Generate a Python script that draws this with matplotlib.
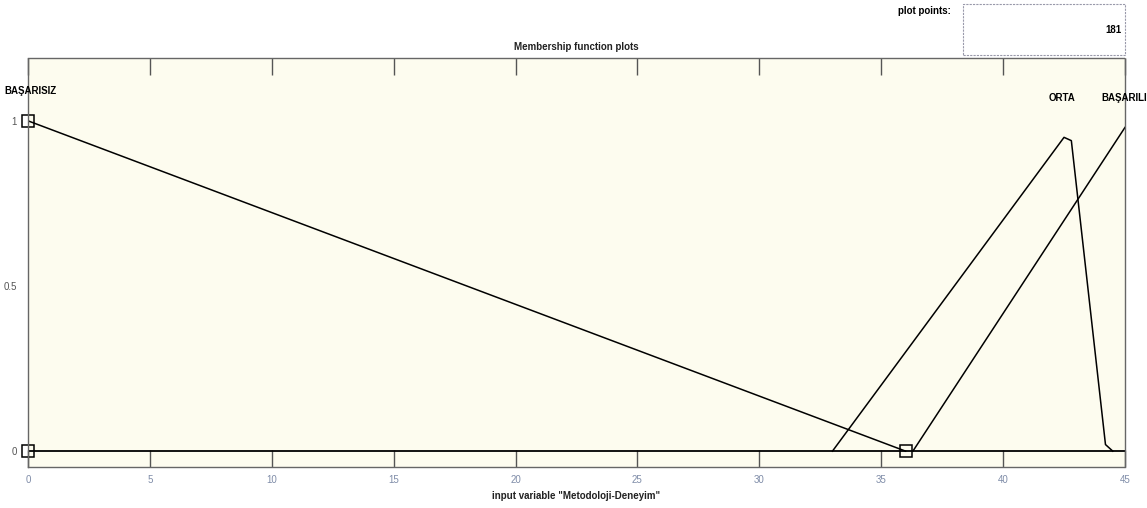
import matplotlib
matplotlib.use("Agg")
import matplotlib.pyplot as plt
from matplotlib.patches import Rectangle

plt.rcParams['font.family'] = ['Liberation Sans', 'DejaVu Sans']

# Data: membership functions of input variable "Metodoloji-Deneyim"
mf_names = ["BAŞARISIZ", "ORTA", "BAŞARILI"]
basarisiz_x = [0, 36]
basarisiz_y = [1, 0]
orta_x = [33, 42.5, 42.8, 44.2, 44.5]
orta_y = [0, 0.95, 0.94, 0.02, 0]
basarili_x = [36.3, 45]
basarili_y = [0, 0.98]
selected_x = [0, 0, 36]
selected_y = [1, 0, 0]
x_ticks = [0, 5, 10, 15, 20, 25, 30, 35, 40, 45]
y_ticks = [0, 0.5, 1]
y_tick_labels = ["0", "0.5", "1"]
plot_points = 181

FS = 7

fig = plt.figure(figsize=(11.47, 5.08), dpi=100)
ax = fig.add_axes([0.0244, 0.0807, 0.9564, 0.805])
ax.set_facecolor('#fdfcef')

ax.plot([0, 45], [0, 0], color='black', lw=1.3)
ax.plot(basarisiz_x, basarisiz_y, color='black', lw=1.1)
ax.plot(orta_x, orta_y, color='black', lw=1.1)
ax.plot(basarili_x, basarili_y, color='black', lw=1.1)
ax.plot(selected_x, selected_y, linestyle='none', marker='s', markersize=9,
        markerfacecolor='none', markeredgecolor='black', markeredgewidth=1.1, clip_on=False)

ax.set_xlim(0, 45)
ax.set_ylim(-0.048, 1.19)
ax.set_xticks(x_ticks)
ax.set_yticks(y_ticks)
ax.set_yticklabels(y_tick_labels)
ax.tick_params(axis='x', direction='in', length=12, width=1.0, top=True, bottom=True,
               labelsize=FS, colors='#555555', pad=6)
ax.tick_params(axis='y', length=0, labelsize=FS, labelcolor='#555555', pad=8)
for lbl in ax.get_xticklabels():
    lbl.set_color('#7f8ca8')
for s in ax.spines.values():
    s.set_color('#666666')
    s.set_linewidth(1.0)
    s.set_linestyle((0, (4, 1)))

ax.set_xlabel('input variable "Metodoloji-Deneyim"', fontsize=FS, labelpad=4, fontweight='bold', color='#222222')
ax.set_title('Membership function plots', fontsize=FS, pad=6, fontweight='bold', color='#222222')

# MF labels
ax.text(-0.95, 1.09, mf_names[0], fontsize=FS, fontweight='bold', ha='left', va='center', clip_on=False)
ax.text(42.4, 1.07, mf_names[1], fontsize=FS, fontweight='bold', ha='center', va='center')
ax.text(45.9, 1.07, mf_names[2], fontsize=FS, fontweight='bold', ha='right', va='center', clip_on=False)

# plot points box
fig.text(0.829, 0.978, 'plot points:', fontsize=FS, fontweight='bold', ha='right', va='center')
box = Rectangle((0.8395, 0.892), 0.141, 0.1, transform=fig.transFigure, fill=False,
                edgecolor='#9999aa', lw=0.8, linestyle=(0, (2, 1)))
fig.add_artist(box)
fig.text(0.978, 0.94, str(plot_points), fontsize=FS, fontweight='bold', ha='right', va='center')

fig.savefig('out.png', dpi=100, facecolor='white')
